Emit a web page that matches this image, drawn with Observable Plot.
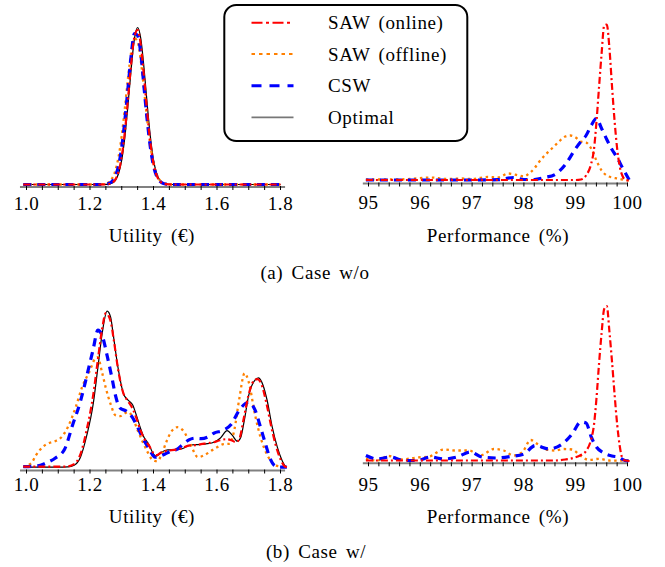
<!DOCTYPE html>
<html><head><meta charset="utf-8">
<script src="https://cdn.jsdelivr.net/npm/d3@7"></script>
<script src="https://cdn.jsdelivr.net/npm/@observablehq/plot@0.6"></script>
<style>
body{margin:0;background:#fff;}
#wrap{position:relative;width:665px;height:567px;background:#fff;overflow:hidden;}
#wrap svg{position:absolute;}
</style></head><body><div id="wrap"></div>
<script>
// ---------- data ----------
const seriesNames = ["SAW (online)", "SAW (offline)", "CSW", "Optimal"];
const captions = ["(a) Case w/o", "(b) Case w/"];
const utilityTicks = [1.0, 1.2, 1.4, 1.6, 1.8];
const utilityTickLabels = ["1.0", "1.2", "1.4", "1.6", "1.8"];
const perfTicks = [95, 96, 97, 98, 99, 100];
const perfTickLabels = ["95", "96", "97", "98", "99", "100"];
const utilityTitle = "Utility (\u20AC)";
const perfTitle = "Performance (%)";

// (a) Utility, case w/o (common x grid)
const aUtilX = [0.99,1.10,1.20,1.24,1.25,1.26,1.27,1.28,1.29,1.30,1.31,1.32,1.33,1.34,1.35,1.36,1.37,1.38,1.39,1.40,1.41,1.42,1.43,1.44,1.45,1.46,1.50,1.60,1.70,1.80];
const aUtilOptimal = [0,0,0,0,0.1,0.4,1.4,4.2,11,24.7,48.1,80.7,116.8,145.8,157,145.8,116.8,80.7,48.1,24.7,11,4.2,1.4,0.4,0.1,0,0,0,0,0];
const aUtilOnline  = [0,0,0,0,0.2,0.5,1.7,5.1,12.9,28.2,53.3,86.8,122,147.8,154.5,139.3,108.4,72.7,42,21,9,3.4,1.1,0.3,0.1,0,0,0,0,0];
const aUtilCSW     = [0,0,0,0,0.3,1.1,3.2,8.3,18.8,37.4,64.8,97.7,130,151,149,131,97.7,64.8,37.4,18.8,8.3,3.2,1.1,0.3,0.1,0,0,0,0,0];
const aUtilOffline = [0,0,0,0.3,0.9,2.4,6.2,13.9,27.7,49,76.9,107.3,132.9,146.2,142.8,123.8,95.3,65.1,39.5,21.3,10.2,4.3,1.6,0.5,0.2,0,0,0,0,0];

// (a) Performance, case w/o
const aPerfOnlineX = [94.95,96,97,98,98.8,99.0,99.1,99.2,99.3,99.35,99.4,99.45,99.5,99.55,99.6,99.65,99.7,99.75,99.8,99.85,99.9,99.95,100.04];
const aPerfOnlineY = [0.5,0.5,0.5,0.5,0.5,0.5,1,5,17,30,58,93,127,155,156,133,95,60,32,14,5,1,0];
const aPerfOfflineX = [94.95,95.4,95.8,96.2,96.5,96.8,97.0,97.3,97.5,97.7,97.9,98.0,98.1,98.2,98.3,98.4,98.5,98.6,98.7,98.8,98.9,99.0,99.1,99.2,99.3,99.4,99.5,99.6,99.7,99.8,99.9,100.04];
const aPerfOfflineY = [1,1,1.5,3,1.5,2,1.5,3.5,3,7,5,4,7,12,19,25,30,35,40,44,45,43,39,38,32,20,10,5,3,2,1,0];
const aPerfCSWX = [94.95,95.5,96,96.5,97,97.5,97.8,98.0,98.2,98.4,98.6,98.8,99.0,99.1,99.2,99.3,99.4,99.5,99.6,99.7,99.8,99.9,100.04];
const aPerfCSWY = [0.5,0.5,0.5,0.5,0.5,0.8,3,1,1,3,6,16,32,39,45,55,62,52,41,31,23,13,0];

// (b) Utility, case w/
const bUtilOptimalX = [0.99,1.05,1.10,1.13,1.15,1.17,1.19,1.21,1.225,1.238,1.254,1.265,1.273,1.288,1.306,1.32,1.335,1.345,1.36,1.37,1.385,1.40,1.408,1.425,1.445,1.47,1.49,1.51,1.53,1.55,1.57,1.59,1.61,1.632,1.648,1.664,1.675,1.685,1.70,1.715,1.731,1.745,1.758,1.774,1.79,1.805,1.816,1.82];
const bUtilOptimalY = [0,0,0,0.3,2,10,32,63,100,133,156,150,133,100,73,67,62,53,38,30,23,13,11,15,17.3,17.5,18.5,21.5,22.5,22.7,23.5,25,29,36.5,32,26,30,45,72,85,89.3,82,66.7,40,20,6.7,0.7,0];
const bUtilOnlineX = [0.99,1.05,1.10,1.13,1.15,1.17,1.19,1.21,1.225,1.238,1.25,1.265,1.275,1.29,1.305,1.32,1.335,1.345,1.36,1.37,1.385,1.40,1.41,1.425,1.445,1.47,1.49,1.51,1.53,1.55,1.57,1.59,1.61,1.63,1.645,1.66,1.67,1.685,1.70,1.715,1.727,1.74,1.755,1.77,1.785,1.80,1.81,1.82];
const bUtilOnlineY = [0.5,0.5,0.5,0.8,3,13,38,72,108,138,154,146,127,95,74,66,58,50,36,29,22,14,12,15,16.5,17.5,19,21.5,22,23,24,25,27,28,27,25,28,50,73,86,88,83,65,42,22,8,2,0];
const bUtilCSWX = [0.99,1.04,1.06,1.09,1.12,1.145,1.17,1.195,1.21,1.225,1.24,1.255,1.27,1.28,1.295,1.315,1.333,1.35,1.365,1.385,1.405,1.42,1.435,1.455,1.475,1.49,1.51,1.53,1.55,1.57,1.59,1.62,1.645,1.67,1.70,1.72,1.737,1.753,1.768,1.78,1.795,1.82];
const bUtilCSWY = [0.5,1.5,4,9,18,42,66,98,118,137,130,110,88,72,59,56,50,40,30,19,10,11,13,16,18,22,27,29,28.5,30,34,37,43,57,65,57,40,23,8,2,0,0];
const bUtilOfflineX = [0.99,1.015,1.03,1.05,1.07,1.09,1.11,1.13,1.155,1.175,1.20,1.215,1.225,1.237,1.25,1.265,1.28,1.295,1.31,1.322,1.335,1.35,1.365,1.38,1.395,1.41,1.425,1.44,1.455,1.475,1.495,1.515,1.54,1.56,1.58,1.60,1.62,1.64,1.655,1.67,1.687,1.70,1.72,1.737,1.757,1.78,1.80,1.82];
const bUtilOfflineY = [0.5,4,12,20,24,26,30,40,60,80,97,108,110,96,79,63,52,51,54,55,49,37,26,16,8,6,12,25,35,40,36,24,10,12,16,20,23,23.5,38,68,94,85,52,30,13,3,0.5,0];

// (b) Performance, case w/
const bPerfOnlineX = [94.95,96,97,98,98.6,98.8,98.95,99.1,99.2,99.3,99.35,99.4,99.45,99.5,99.55,99.6,99.65,99.7,99.75,99.8,99.85,99.9,99.95,100.04];
const bPerfOnlineY = [0.5,0.5,0.5,0.5,0.5,1.5,3,6,10,22,35,62,97,128,152,155,130,100,67,37,15,3,0.5,0];
const bPerfCSWX = [94.95,95.17,95.42,95.68,95.94,96.2,96.45,96.71,96.97,97.19,97.45,97.74,98.0,98.22,98.48,98.74,98.93,99.1,99.2,99.3,99.4,99.54,99.7,99.83,99.95,100.04];
const bPerfCSWY = [5.5,2,4,0.5,0.5,4,2,4,9,4,3,4.5,7,15.5,12,17,27,39,38,24,14,8,5,3.8,0.5,0];
const bPerfOfflineX = [94.95,95.17,95.39,95.62,95.94,96.17,96.45,96.68,96.94,97.16,97.42,97.61,97.8,97.97,98.13,98.26,98.42,98.61,98.77,98.93,99.09,99.25,99.45,99.64,99.9,100.04];
const bPerfOfflineY = [2,0.5,5,1.5,3.5,4.5,11.5,10.5,10.5,5.5,12,10.5,5.5,8.8,21,17,11.5,10.5,12,11.5,5.5,1,2.2,0.5,0.3,0.5];

// ---------- styles ----------
const FONT = '"Liberation Serif", "Times New Roman", serif';
const FS = 19;
const lineStyle = {
  "SAW (online)":  {stroke: "#ff0000", strokeWidth: 2.2, strokeDasharray: "7,3,2,3"},
  "SAW (offline)": {stroke: "#ff8000", strokeWidth: 2.3, strokeDasharray: "2.5,3.5"},
  "CSW":           {stroke: "#0000ff", strokeWidth: 3.2, strokeDasharray: "8,6"},
  "Optimal":       {stroke: "#000000", strokeWidth: 1.2, strokeDasharray: null}
};

function pts(xs, ys) { const n = Math.min(xs.length, ys.length); const out = []; for (let i = 0; i < n; i++) out.push({x: xs[i], y: ys[i]}); return out; }

function panel(cfg) {
  const marks = [
    Plot.ruleY([{y: cfg.axisY, x1: cfg.axisX1, x2: cfg.axisX2}], {y: "y", x1: "x1", x2: "x2", stroke: "#808080", strokeWidth: 2}),
    Plot.ruleX(cfg.minors, {x: d => d, y1: () => cfg.axisY + 0.5, y2: () => cfg.axisY - 3.5, stroke: "#000", strokeWidth: 1}),
    Plot.axisX(cfg.majors, {tickSize: 0, tickPadding: cfg.pad, fontSize: FS, tickFormat: d => cfg.labels[cfg.majors.indexOf(d)]}),
    Plot.text([{t: cfg.title, x: cfg.titleX, y: cfg.titleY}], {x: "x", y: "y", text: "t", lineAnchor: "bottom", fontSize: FS, fill: "#000"})
  ];
  for (const s of cfg.series) {
    const st = lineStyle[s.name];
    const o = {x: "x", y: "y", stroke: st.stroke, strokeWidth: st.strokeWidth, curve: "monotone-x", strokeLinecap: "butt"};
    if (st.strokeDasharray) o.strokeDasharray = st.strokeDasharray;
    marks.push(Plot.line(pts(s.x, s.y), o));
  }
  const svg = Plot.plot({
    width: cfg.width, height: cfg.height,
    marginLeft: cfg.mLeft, marginRight: cfg.mRight,
    marginTop: cfg.base - 160, marginBottom: cfg.height - cfg.base,
    x: {domain: cfg.domain, axis: null},
    y: {domain: [0, 160], axis: null},
    style: {fontFamily: FONT, background: "transparent", overflow: "visible", color: "#000", letterSpacing: "0.6px", wordSpacing: "3px"},
    marks
  });
  svg.style.left = cfg.left + "px";
  svg.style.top = cfg.top + "px";
  document.getElementById("wrap").appendChild(svg);
}

const utilMinors = d3.range(0, 17).map(i => +(1 + i * 0.05).toFixed(2));
const perfMinors = d3.range(0, 26).map(i => +(95 + i * 0.2).toFixed(1));
// label baseline offset below frame bottom = pad + 0.71*FS
const off = 0.71 * FS;

// (a) utility
panel({left: 0, top: 0, width: 330, height: 250, mLeft: 26, mRight: 50, base: 184, domain: [1.0, 1.8],
  axisY: -2.5, axisX1: 0.981, axisX2: 1.816, minors: utilMinors, majors: utilityTicks, labels: utilityTickLabels, pad: 25 - off,
  title: utilityTitle, titleX: 1.395, titleY: -57,
  series: [
    {name: "Optimal", x: aUtilX, y: aUtilOptimal},
    {name: "SAW (offline)", x: aUtilX, y: aUtilOffline},
    {name: "CSW", x: aUtilX, y: aUtilCSW},
    {name: "SAW (online)", x: aUtilX, y: aUtilOnline}
  ]});
// (a) performance
panel({left: 330, top: 0, width: 335, height: 250, mLeft: 38, mRight: 38, base: 180, domain: [95, 100],
  axisY: -3, axisX1: 94.9, axisX2: 100.02, minors: perfMinors, majors: perfTicks, labels: perfTickLabels, pad: 28.5 - off,
  title: perfTitle, titleX: 97.5, titleY: -61,
  series: [
    {name: "SAW (offline)", x: aPerfOfflineX, y: aPerfOfflineY},
    {name: "CSW", x: aPerfCSWX, y: aPerfCSWY},
    {name: "SAW (online)", x: aPerfOnlineX, y: aPerfOnlineY}
  ]});
// (b) utility
panel({left: 0, top: 290, width: 330, height: 250, mLeft: 26, mRight: 50, base: 176.7, domain: [1.0, 1.8],
  axisY: -3.3, axisX1: 0.981, axisX2: 1.816, minors: utilMinors, majors: utilityTicks, labels: utilityTickLabels, pad: 23.8 - off,
  title: utilityTitle, titleX: 1.395, titleY: -55.6,
  series: [
    {name: "Optimal", x: bUtilOptimalX, y: bUtilOptimalY},
    {name: "SAW (offline)", x: bUtilOfflineX, y: bUtilOfflineY},
    {name: "CSW", x: bUtilCSWX, y: bUtilCSWY},
    {name: "SAW (online)", x: bUtilOnlineX, y: bUtilOnlineY}
  ]});
// (b) performance
panel({left: 330, top: 290, width: 335, height: 250, mLeft: 38, mRight: 38, base: 170.5, domain: [95, 100],
  axisY: -2.3, axisX1: 94.9, axisX2: 100.02, minors: perfMinors, majors: perfTicks, labels: perfTickLabels, pad: 29.5 - off,
  title: perfTitle, titleX: 97.5, titleY: -61.8,
  series: [
    {name: "SAW (offline)", x: bPerfOfflineX, y: bPerfOfflineY},
    {name: "CSW", x: bPerfCSWX, y: bPerfCSWY},
    {name: "SAW (online)", x: bPerfOnlineX, y: bPerfOnlineY}
  ]});

// ---------- legend & captions overlay ----------
const ov = d3.select("#wrap").append("svg").attr("width", 665).attr("height", 567)
  .style("left", "0px").style("top", "0px").style("pointer-events", "none")
  .style("font-family", FONT).style("letter-spacing", "0.6px").style("word-spacing", "3px");
ov.append("rect").attr("x", 224.3).attr("y", 5).attr("width", 243).attr("height", 136).attr("rx", 12)
  .attr("fill", "#fff").attr("stroke", "#000").attr("stroke-width", 2);
const legendDash = {"SAW (online)": "11,3.5,3,3.5", "SAW (offline)": "3.5,4", "CSW": "10,8", "Optimal": null};
const rowY = [22.7, 54, 85.7, 117.3];
seriesNames.forEach((name, i) => {
  const st = lineStyle[name];
  const l = ov.append("line").attr("x1", 251.5).attr("x2", 293.5).attr("y1", rowY[i]).attr("y2", rowY[i])
    .attr("stroke", name === "Optimal" ? "#777" : st.stroke).attr("stroke-width", name === "Optimal" ? 1.8 : (name === "CSW" ? 3 : 2));
  if (legendDash[name]) l.attr("stroke-dasharray", legendDash[name]);
  ov.append("text").attr("x", 328).attr("y", rowY[i] + 6.5).attr("font-size", FS).attr("fill", "#000").text(name);
});
ov.append("text").attr("x", 315).attr("y", 278.5).attr("text-anchor", "middle").attr("font-size", FS).attr("fill", "#000").text(captions[0]);
ov.append("text").attr("x", 316).attr("y", 558).attr("text-anchor", "middle").attr("font-size", FS).attr("fill", "#000").text(captions[1]);
</script></body></html>
